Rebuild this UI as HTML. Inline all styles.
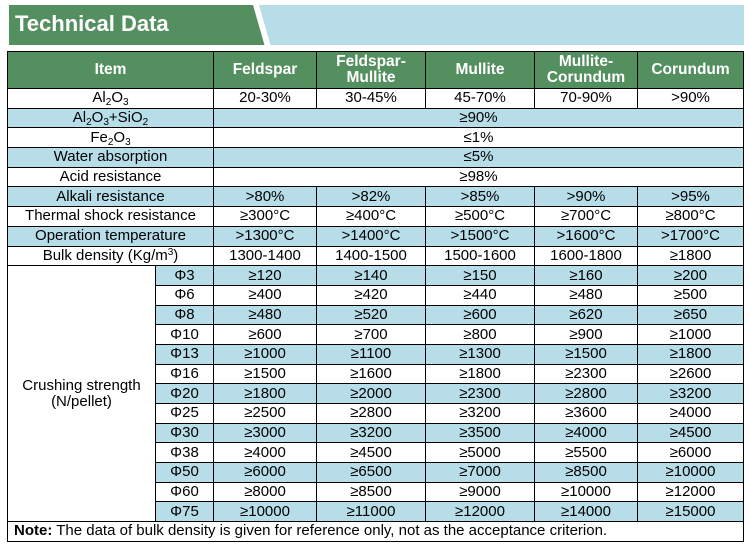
<!DOCTYPE html>
<html><head><meta charset="utf-8"><style>
body{margin:0;width:750px;height:551px;background:#fff;position:relative;font-family:"Liberation Sans",Arial,sans-serif;overflow:hidden}
.bn{position:absolute;top:5px;left:9px;width:735px;height:40px;background:#b7dde8}
.gr{position:absolute;top:5px;left:9px;width:260px;height:40px;background:#548f5f;clip-path:polygon(0 0,248px 0,260px 40px,0 40px)}
.wl{position:absolute;top:5px;left:253px;width:6px;height:40px;background:#fff;transform:skewX(16deg);transform-origin:0 0}
.tt{position:absolute;top:11px;left:15px;color:#fff;font-weight:bold;font-size:22px}
table{position:absolute;top:51px;left:7px;border-collapse:collapse;table-layout:fixed;width:736px}
td{border:1px solid #000;padding:0;text-align:center;font-size:15px;height:18.7px;line-height:16px;white-space:nowrap}
th{border:1px solid #000;background:#548f5f;color:#fff;font-size:15.5px;height:36px;line-height:16px;padding:0}
.b td,td.b{background:#b7dde8}
.b td.w{background:#fff}
sub{font-size:10px;vertical-align:-3px;line-height:0}
sup{font-size:10px;vertical-align:5px;line-height:0}
</style></head><body>
<div class="bn"></div><div class="gr"></div><div class="wl"></div>
<div class="tt">Technical Data</div>
<table>
<colgroup><col style="width:148px"><col style="width:58px"><col style="width:103px"><col style="width:109px"><col style="width:109px"><col style="width:103px"><col style="width:106px"></colgroup>
<tr><th colspan="2">Item</th><th>Feldspar</th><th>Feldspar-<br>Mullite</th><th>Mullite</th><th>Mullite-<br>Corundum</th><th>Corundum</th></tr>
<tr><td colspan="2">Al<sub>2</sub>O<sub>3</sub></td><td>20-30%</td><td>30-45%</td><td>45-70%</td><td>70-90%</td><td>&gt;90%</td></tr>
<tr class="b"><td colspan="2">Al<sub>2</sub>O<sub>3</sub>+SiO<sub>2</sub></td><td colspan="5">≥90%</td></tr>
<tr><td colspan="2">Fe<sub>2</sub>O<sub>3</sub></td><td colspan="5">≤1%</td></tr>
<tr class="b"><td colspan="2">Water absorption</td><td colspan="5">≤5%</td></tr>
<tr><td colspan="2">Acid resistance</td><td colspan="5">≥98%</td></tr>
<tr class="b"><td colspan="2">Alkali resistance</td><td>&gt;80%</td><td>&gt;82%</td><td>&gt;85%</td><td>&gt;90%</td><td>&gt;95%</td></tr>
<tr><td colspan="2">Thermal shock resistance</td><td>≥300°C</td><td>≥400°C</td><td>≥500°C</td><td>≥700°C</td><td>≥800°C</td></tr>
<tr class="b"><td colspan="2">Operation temperature</td><td>&gt;1300°C</td><td>&gt;1400°C</td><td>&gt;1500°C</td><td>&gt;1600°C</td><td>&gt;1700°C</td></tr>
<tr><td colspan="2">Bulk density (Kg/m<sup>3</sup>)</td><td>1300-1400</td><td>1400-1500</td><td>1500-1600</td><td>1600-1800</td><td>≥1800</td></tr>
<tr class="b"><td rowspan="13" class="w">Crushing strength<br>(N/pellet)</td><td>Φ3</td><td>≥120</td><td>≥140</td><td>≥150</td><td>≥160</td><td>≥200</td></tr>
<tr><td>Φ6</td><td>≥400</td><td>≥420</td><td>≥440</td><td>≥480</td><td>≥500</td></tr>
<tr class="b"><td>Φ8</td><td>≥480</td><td>≥520</td><td>≥600</td><td>≥620</td><td>≥650</td></tr>
<tr><td>Φ10</td><td>≥600</td><td>≥700</td><td>≥800</td><td>≥900</td><td>≥1000</td></tr>
<tr class="b"><td>Φ13</td><td>≥1000</td><td>≥1100</td><td>≥1300</td><td>≥1500</td><td>≥1800</td></tr>
<tr><td>Φ16</td><td>≥1500</td><td>≥1600</td><td>≥1800</td><td>≥2300</td><td>≥2600</td></tr>
<tr class="b"><td>Φ20</td><td>≥1800</td><td>≥2000</td><td>≥2300</td><td>≥2800</td><td>≥3200</td></tr>
<tr><td>Φ25</td><td>≥2500</td><td>≥2800</td><td>≥3200</td><td>≥3600</td><td>≥4000</td></tr>
<tr class="b"><td>Φ30</td><td>≥3000</td><td>≥3200</td><td>≥3500</td><td>≥4000</td><td>≥4500</td></tr>
<tr><td>Φ38</td><td>≥4000</td><td>≥4500</td><td>≥5000</td><td>≥5500</td><td>≥6000</td></tr>
<tr class="b"><td>Φ50</td><td>≥6000</td><td>≥6500</td><td>≥7000</td><td>≥8500</td><td>≥10000</td></tr>
<tr><td>Φ60</td><td>≥8000</td><td>≥8500</td><td>≥9000</td><td>≥10000</td><td>≥12000</td></tr>
<tr class="b"><td>Φ75</td><td>≥10000</td><td>≥11000</td><td>≥12000</td><td>≥14000</td><td>≥15000</td></tr>
<tr><td colspan="7" style="text-align:left;padding-left:6px"><b>Note:</b> The data of bulk density is given for reference only, not as the acceptance criterion.</td></tr>
</table>
</body></html>
